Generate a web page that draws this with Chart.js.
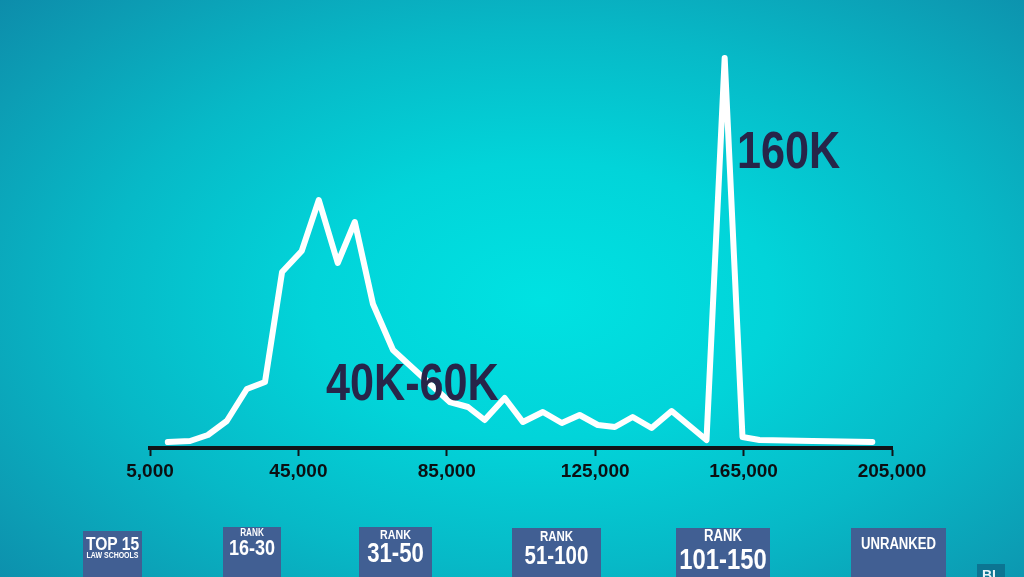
<!DOCTYPE html>
<html>
<head>
<meta charset="utf-8">
<script src="https://cdn.jsdelivr.net/npm/chart.js@4.4.1/dist/chart.umd.min.js"></script>
<style>
html, body { margin: 0; padding: 0; }
body {
	width: 1024px; height: 577px; overflow: hidden; position: relative;
	background: radial-gradient(ellipse 75% 80% at 53% 52%, #00e2e2 0%, #02d4d9 30%, #07b9c7 58%, #0c9db4 82%, #0d88a8 100%);
	font-family: "Liberation Sans", Arimo, sans-serif;
}
#wrap { position: absolute; left: 0; top: 0; width: 1024px; height: 577px; }
.note { position: absolute; color: #272549; font-weight: bold; font-size: 52px; line-height: 1; white-space: nowrap; transform: scaleX(0.83); transform-origin: 0 0; }
.box { position: absolute; bottom: 0; background: #415f93; color: #fff; font-weight: bold; text-align: center; }
.box span { position: absolute; left: -20px; right: -20px; line-height: 1; white-space: nowrap; transform: scaleX(0.82); transform-origin: 50% 0; }
#bi { position: absolute; left: 977px; top: 564px; width: 28px; height: 13px; background: #0c7592; overflow: hidden; }
#bi span { position: absolute; left: 5px; top: 4px; color: #e8f4f8; font: bold 14px "Liberation Sans", sans-serif; line-height: 1; }
</style>
</head>
<body>
<div id="wrap"><canvas id="myChart" width="1024" height="577"></canvas></div>

<div class="note" style="left:326px; top:356px;">40K-60K</div>
<div class="note" style="left:737px; top:124px;">160K</div>

<div class="box" style="left:83px; width:59px; top:531px;">
	<span style="top:3px; font-size:19px;">TOP 15</span>
	<span style="top:20px; font-size:8.5px;">LAW SCHOOLS</span>
</div>
<div class="box" style="left:223px; width:58px; top:527px;">
	<span style="top:1px; font-size:10px;">RANK</span>
	<span style="top:10px; font-size:22px;">16-30</span>
</div>
<div class="box" style="left:359px; width:73px; top:527px;">
	<span style="top:1px; font-size:13px;">RANK</span>
	<span style="top:13px; font-size:27px;">31-50</span>
</div>
<div class="box" style="left:512px; width:89px; top:528px;">
	<span style="top:1px; font-size:14px;">RANK</span>
	<span style="top:15px; font-size:25px;">51-100</span>
</div>
<div class="box" style="left:676px; width:94px; top:528px;">
	<span style="top:0px; font-size:16px;">RANK</span>
	<span style="top:17px; font-size:29px;">101-150</span>
</div>
<div class="box" style="left:851px; width:95px; top:528px;">
	<span style="top:8px; font-size:16px;">UNRANKED</span>
</div>
<div id="bi"><span>BI</span></div>

<script>
// starting salary (x) vs how many grads earn it (y, relative units)
var salaries = [9800, 15800, 20600, 25700, 31100, 36000, 40600, 45900, 50500, 55600,
	60200, 65100, 70500, 85800, 90700, 95200, 100600, 105500, 110900, 116000,
	120800, 125700, 130300, 135100, 140200, 145600, 155000, 159900, 164700, 169300,
	183600, 199700];
var graduates = [6, 7, 13, 27, 59, 66, 176, 197, 248, 185,
	226, 144, 98, 46, 41, 28, 50, 26, 36, 25,
	33, 23, 21, 31, 20, 37, 8, 390, 11, 8,
	7, 6];
var tickValues = [5000, 45000, 85000, 125000, 165000, 205000];

var points = [];
salaries.map(function(s, i){
	points.push({ x: s, y: graduates[i] });
});

var ctx = document.getElementById('myChart');
var myChart = new Chart(ctx, {
	type: 'line',
	data: {
		datasets: [{
			data: points,
			borderColor: '#ffffff',
			borderWidth: 6,
			borderJoinStyle: 'round',
			borderCapStyle: 'round',
			pointRadius: 0,
			tension: 0,
			fill: false,
			clip: false
		}]
	},
	options: {
		responsive: false,
		animation: false,
		events: [],
		layout: { padding: { left: 150, right: 132, top: 20, bottom: 89 } },
		plugins: { legend: { display: false }, tooltip: { enabled: false } },
		scales: {
			x: {
				type: 'linear',
				min: tickValues[0],
				max: tickValues[tickValues.length - 1],
				afterFit: function(scale){ scale.height = 40; },
				afterBuildTicks: function(scale){
					scale.ticks = tickValues.map(function(v){ return { value: v }; });
				},
				border: { display: true, color: '#101418', width: 4 },
				grid: { display: true, drawOnChartArea: false, drawTicks: true, tickLength: 8, tickColor: '#101418', tickWidth: 2 },
				ticks: {
					padding: 4,
					color: '#0c0f12',
					font: { family: '"Liberation Sans", sans-serif', size: 19, weight: 'bold' },
					callback: function(v){ return Number(v).toLocaleString('en-US'); }
				}
			},
			y: { display: false, min: 0, max: 428 }
		}
	}
});
</script>
</body>
</html>
